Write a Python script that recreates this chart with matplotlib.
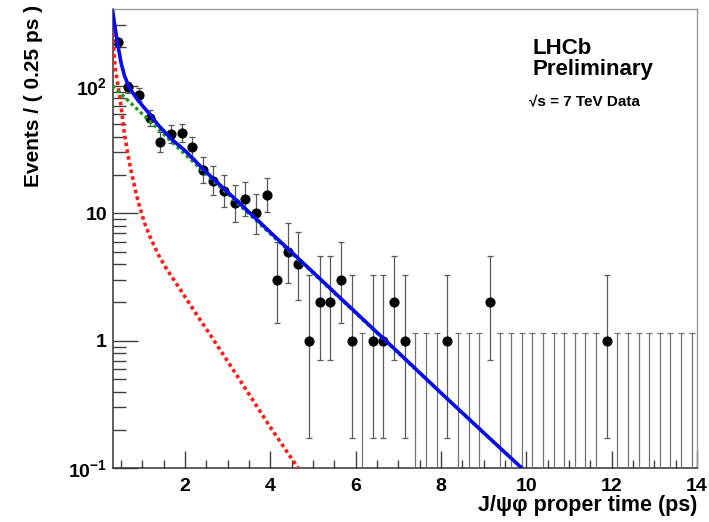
import math
import numpy as np
import matplotlib
matplotlib.use("Agg")
import matplotlib.pyplot as plt
from matplotlib.ticker import FixedLocator, NullFormatter, LogLocator

# ---------------- data ----------------
t_min, t_max = 0.3, 14.0
n_bins = 55
counts = [221, 97, 85, 56, 36, 42, 43, 33, 22, 18, 15, 12, 13, 10, 14,
          3, 5, 4, 1, 2, 2, 3, 1, 0, 1, 1, 2, 1, 0, 0,
          0, 1, 0, 0, 0, 2, 0, 0, 0, 0, 0, 0, 0, 0, 0,
          0, 1, 0, 0, 0, 0, 0, 0, 0, 0]

# total fit (blue)
total_t = [0.3, 0.34, 0.38, 0.42, 0.5, 0.58, 0.7, 0.85, 1.0, 1.17, 1.4, 1.71,
           2.0, 2.5, 3.2, 4.0, 5.0, 6.0, 7.0, 8.0, 9.0, 10.0]
total_v = [395, 320, 260, 215, 152, 120, 96, 81, 70, 60, 48, 37.5,
           31, 21, 12.7, 7.1, 3.45, 1.67, 0.81, 0.39, 0.19, 0.093]

# signal component (green)
sig_t = [0.3, 1.0, 2.0, 3.0, 4.0, 5.0, 6.0, 7.0, 8.0, 9.0, 10.0]
sig_v = [100, 60, 29, 14.2, 6.9, 3.4, 1.65, 0.8, 0.39, 0.19, 0.093]

# background component (red)
bkg_t = [0.3, 0.33, 0.36, 0.42, 0.5, 0.58, 0.66, 0.75, 0.85, 0.93, 1.05, 1.2,
         1.38, 1.56, 1.87, 2.25, 2.65, 3.0, 3.44, 4.0, 4.57, 4.7]
bkg_v = [290, 190, 140, 105, 70, 42, 29, 20.5, 14.5, 11.5, 8.4, 6.3,
         4.7, 3.7, 2.58, 1.65, 1.04, 0.69, 0.41, 0.21, 0.11, 0.095]

x_ticks = [2, 4, 6, 8, 10, 12, 14]
y_ticks = [0.1, 1, 10, 100]
y_ticklabels = [r"$10^{-1}$", "1", "10", r"$10^{2}$"]


def poisson_interval(n, cl=0.6827):
    """Central Poisson interval (RooFit convention)."""
    a = (1 - cl) / 2

    def cdf(k, mu):
        s, term = 0.0, math.exp(-mu)
        for i in range(k + 1):
            if i > 0:
                term *= mu / i
            s += term
        return s

    def solve(f, lo, hi):
        for _ in range(200):
            mid = 0.5 * (lo + hi)
            if f(mid) > 0:
                lo = mid
            else:
                hi = mid
        return 0.5 * (lo + hi)

    if n == 0:
        return 0.0, -math.log(1 - cl)
    up = solve(lambda mu: cdf(n, mu) - a, n, n + 20 * math.sqrt(n) + 20)
    lo = solve(lambda mu: a - (1 - cdf(n - 1, mu)), 0.0, n)
    return lo, up


# ---------------- style ----------------
plt.rcParams["font.family"] = ["Liberation Sans", "DejaVu Sans"]
plt.rcParams["font.weight"] = "bold"
plt.rcParams["mathtext.fontset"] = "custom"
plt.rcParams["mathtext.rm"] = "Liberation Sans:bold"
plt.rcParams["mathtext.it"] = "Liberation Sans:bold:italic"
plt.rcParams["mathtext.bf"] = "Liberation Sans:bold"

fig = plt.figure(figsize=(7.09, 5.22), dpi=100)
ax = fig.add_axes([112.5 / 709, 1 - 468.3 / 522, (697 - 112.5) / 709, (468.3 - 9.3) / 522])

width = (t_max - t_min) / n_bins
centers = t_min + (np.arange(n_bins) + 0.5) * width
counts_a = np.array(counts, dtype=float)
lows, ups = zip(*[poisson_interval(int(n)) for n in counts])
lows = np.array(lows)
ups = np.array(ups)

nz = counts_a > 0
ax.errorbar(centers[nz], counts_a[nz],
            yerr=[counts_a[nz] - lows[nz], ups[nz] - counts_a[nz]],
            fmt="o", color="black", ms=6.3, ecolor="0.35", elinewidth=0.9,
            capsize=2, capthick=0.9, zorder=3)
z = ~nz
ax.errorbar(centers[z], np.full(z.sum(), 1e-4),
            yerr=[np.zeros(z.sum()), ups[z] - 1e-4],
            fmt="none", ecolor="0.45", elinewidth=0.9, capsize=2, capthick=0.9, zorder=3)

ax.plot(bkg_t, bkg_v, color="#ff1a1a", lw=2.6, linestyle=(0, (1, 0.9)), zorder=4)
ax.plot(sig_t, sig_v, color="#1a9a1a", lw=2.4, linestyle=(0, (1, 0.9)), zorder=4)
ax.plot(total_t, total_v, color="#0a0aee", lw=2.6, zorder=5, solid_capstyle="butt",
        solid_joinstyle="round")

ax.set_yscale("log")
ax.set_xlim(t_min, t_max)
ax.set_ylim(0.1, 398)

ax.xaxis.set_major_locator(FixedLocator(x_ticks))
ax.xaxis.set_minor_locator(FixedLocator(np.arange(0.5, 14.01, 0.5)))
ax.set_xticklabels([str(v) for v in x_ticks])
ax.yaxis.set_major_locator(FixedLocator(y_ticks))
ax.set_yticklabels(y_ticklabels)
ax.yaxis.set_minor_locator(LogLocator(base=10, subs=np.arange(2, 10)))
ax.yaxis.set_minor_formatter(NullFormatter())

ax.tick_params(axis="both", which="both", direction="in", top=False, right=False,
               colors="0.25", labelcolor="black")
ax.tick_params(axis="y", which="major", length=18, width=1, pad=4, labelsize=14)
ax.tick_params(axis="y", which="minor", length=9, width=1)
ax.tick_params(axis="x", which="major", length=12, width=1, pad=7, labelsize=14)
ax.tick_params(axis="x", which="minor", length=6, width=1)

for s in ("left", "bottom"):
    ax.spines[s].set_color("0.2")
    ax.spines[s].set_linewidth(1.1)
for s in ("top", "right"):
    ax.spines[s].set_color("0.6")
    ax.spines[s].set_linewidth(1.0)

fig.text(697 / 709, 1 - 506 / 522, "J/ψφ proper time (ps)", ha="right", va="center",
         fontsize=15.5, fontweight="bold")
fig.text(34 / 709, 1 - 5 / 522, "Events / ( 0.25 ps )", rotation=90, ha="center", va="top",
         fontsize=15, fontweight="bold")

fig.text(532 / 709, 1 - 53.5 / 522, "LHCb", ha="left", va="baseline", fontsize=16, fontweight="bold")
fig.text(532 / 709, 1 - 75.5 / 522, "Preliminary", ha="left", va="baseline", fontsize=16, fontweight="bold")
fig.text(529 / 709, 1 - 105 / 522, "√s = 7 TeV Data", ha="left", va="baseline", fontsize=11, fontweight="bold")

fig.savefig("out.png", dpi=100)
